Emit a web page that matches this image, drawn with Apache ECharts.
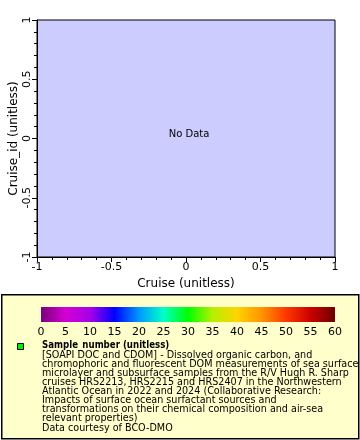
<!DOCTYPE html>
<html><head><meta charset="utf-8">
<script src="https://cdn.jsdelivr.net/npm/echarts@6/dist/echarts.min.js"></script>
<style>html,body{margin:0;padding:0;background:#fff}#c{width:360px;height:440px}</style>
</head><body><div id="c"></div>
<script>
const xTicks = [-1, -0.5, 0, 0.5, 1];
const yTicks = [-1, -0.5, 0, 0.5, 1];
const points = []; // no data
const cbarValues = [0, 5, 10, 15, 20, 25, 30, 35, 40, 45, 50, 55, 60];
const cbarColors = ['#7a007a','#d400d4','#a800e8','#0000ff','#0098ff','#00ffc8','#00ff00','#b4f000','#ffd400','#ff9400','#ff3800','#cc0000','#6e0000'];
const cbarRange = [0, 60];
const legendTitle = 'Sample_number (unitless)';
const legendLines = [
 '[SOAPI DOC and CDOM] - Dissolved organic carbon, and',
 'chromophoric and fluorescent DOM measurements of sea surface',
 'microlayer and subsurface samples from the R/V Hugh R. Sharp',
 'cruises HRS2213, HRS2215 and HRS2407 in the Northwestern',
 'Atlantic Ocean in 2022 and 2024 (Collaborative Research:',
 'Impacts of surface ocean surfactant sources and',
 'transformations on their chemical composition and air-sea',
 'relevant properties)',
 'Data courtesy of BCO-DMO'
];
const FONT = 'DejaVu Sans';
const chart = echarts.init(document.getElementById('c'), null, {renderer:'canvas'});
const stops = cbarValues.map((v,i)=>({offset:(v-cbarRange[0])/(cbarRange[1]-cbarRange[0]), color:cbarColors[i]}));
const axisCommon = {
  type:'value', min:-1, max:1, interval:0.5,
  axisLine:{show:true, onZero:false, lineStyle:{color:'#000', width:1}},
  axisTick:{show:true, length:5, lineStyle:{color:'#000'}},
  minorTick:{show:true, splitNumber:5, length:3, lineStyle:{color:'#000'}},
  splitLine:{show:false},
  nameLocation:'middle',
  nameMoveOverlap:false,
  nameTextStyle:{fontFamily:FONT, fontSize:12, color:'#000'}
};
chart.setOption({
  animation:false,
  backgroundColor:'#fff',
  grid:[
    {left:37, top:20, width:298, height:237, show:true, backgroundColor:'#ccccff', borderColor:'#000', borderWidth:1, containLabel:false, outerBoundsMode:'none'},
    {left:41, top:307, width:294, height:15, show:false, containLabel:false, outerBoundsMode:'none'}
  ],
  xAxis:[
    Object.assign({}, axisCommon, {gridIndex:0, name:'Cruise (unitless)', nameGap:21,
      axisLabel:{fontFamily:FONT, fontSize:11, color:'#000', margin:5,
        formatter:v=>xTicks.includes(v)?String(v):''}}),
    {type:'value', gridIndex:1, min:cbarRange[0], max:cbarRange[1], interval:5,
      axisLine:{show:false}, axisTick:{show:false}, splitLine:{show:false},
      axisLabel:{fontFamily:FONT, fontSize:11, color:'#000', margin:5}}
  ],
  yAxis:[
    Object.assign({}, axisCommon, {gridIndex:0, name:'Cruise_id (unitless)', nameGap:17,
      axisLabel:{fontFamily:FONT, fontSize:11, color:'#000', rotate:90, margin:4,
        formatter:v=>yTicks.includes(v)?String(v):''}}),
    {type:'value', gridIndex:1, min:0, max:1, show:false}
  ],
  graphic:[
    {type:'rect', left:1, top:294, z:-10, shape:{width:357, height:144},
      style:{fill:'#ffffcc', stroke:'#000', lineWidth:1.5}},
    {type:'rect', left:17, top:343, shape:{width:6, height:6}, style:{fill:'#00ee00', stroke:'#000', lineWidth:1}},
    {type:'text', left:42, top:340, style:{text:legendTitle, font:'bold 9.6px "DejaVu Sans Condensed"', fill:'#000'}},
    {type:'text', left:42, top:349.5, style:{text:legendLines.join('\n'), font:'10.7px "DejaVu Sans Condensed"', lineHeight:9.1, fill:'#000'}},
    {type:'text', x:189, y:134, style:{text:'No Data', font:'10px "DejaVu Sans"', fill:'#000', align:'center', verticalAlign:'middle'}}
  ],
  series:[
    {type:'scatter', xAxisIndex:0, yAxisIndex:0, data:points},
    {type:'custom', xAxisIndex:1, yAxisIndex:1, data:[[cbarRange[0], cbarRange[1]]],
      renderItem:function(params, api){
        const p0 = api.coord([api.value(0), 1]);
        const p1 = api.coord([api.value(1), 0]);
        return {type:'rect', shape:{x:p0[0], y:p0[1], width:p1[0]-p0[0], height:p1[1]-p0[1]},
          style:{fill:new echarts.graphic.LinearGradient(0,0,1,0,stops)}};
      }}
  ]
});
</script></body></html>
